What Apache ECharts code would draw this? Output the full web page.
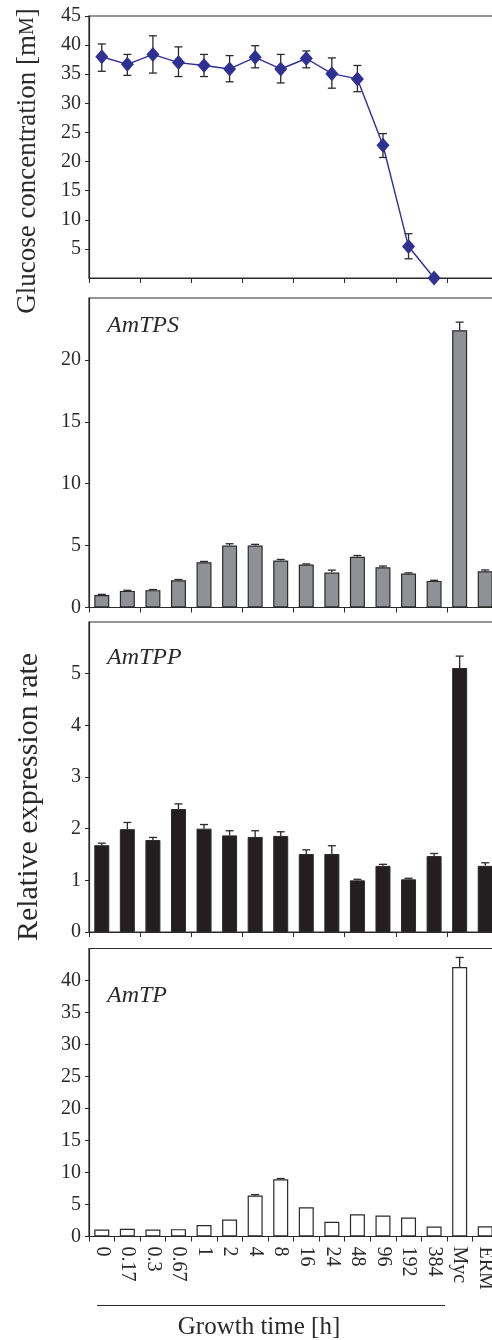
<!DOCTYPE html>
<html>
<head>
<meta charset="utf-8">
<script src="https://cdn.jsdelivr.net/npm/echarts@6/dist/echarts.min.js"></script>
<style>
  html, body { margin: 0; padding: 0; background: #fff; }
  #main { width: 492px; height: 1340px; }
</style>
</head>
<body>
<div id="main"></div>
<script>
// categories (growth time, h) + mycelium / ERM
var categories = ['0', '0.17', '0.3', '0.67', '1', '2', '4', '8', '16', '24', '48', '96', '192', '384', 'Myc', 'ERM'];

// glucose concentration [mM]
var glucose     = [38.0, 36.7, 38.4, 37.0, 36.5, 35.9, 37.9, 35.9, 37.7, 35.1, 34.2, 22.8, 5.4, 0];
var glucoseLow  = [35.5, 34.8, 35.2, 34.6, 34.6, 33.7, 36.1, 33.5, 36.1, 32.6, 32.0, 20.7, 3.3, null];
var glucoseHigh = [40.2, 38.4, 41.6, 39.7, 38.4, 38.2, 39.9, 38.4, 39.0, 37.8, 36.5, 24.8, 7.6, null];

// relative expression rates
var tps    = [1.0, 1.34, 1.4, 2.2, 3.66, 5.0, 5.0, 3.8, 3.47, 2.82, 4.1, 3.25, 2.74, 2.15, 22.4, 2.93];
var tpsErr = [0.06, 0.05, 0.05, 0.06, 0.06, 0.15, 0.1, 0.08, 0.05, 0.2, 0.1, 0.1, 0.06, 0.05, 0.65, 0.1];
var tpp    = [1.68, 1.99, 1.78, 2.38, 2.0, 1.87, 1.84, 1.86, 1.51, 1.51, 1.0, 1.28, 1.02, 1.47, 5.11, 1.28];
var tppErr = [0.04, 0.13, 0.05, 0.1, 0.08, 0.09, 0.12, 0.08, 0.08, 0.16, 0.02, 0.03, 0.02, 0.05, 0.23, 0.06];
var tp     = [1.09, 1.2, 1.1, 1.15, 1.8, 2.65, 6.4, 8.94, 4.58, 2.29, 3.48, 3.28, 2.96, 1.56, 42.1, 1.6];
var tpErr  = [0, 0, 0, 0, 0, 0, 0.15, 0.12, 0, 0, 0, 0, 0, 0, 1.5, 0];

var FONT = 'Liberation Serif';
var INK = '#2a2a2a';

var chart = echarts.init(document.getElementById('main'), null, { renderer: 'canvas' });

// error bar: [index, low, high], cap on both ends unless topOnly
function errRender(topOnly) {
  return function (params, api) {
    var lo = api.value(1), hi = api.value(2);
    if (lo == null || hi == null || isNaN(lo) || isNaN(hi) || hi - lo <= 0) return null;
    var p1 = api.coord([api.value(0), lo]);
    var p2 = api.coord([api.value(0), hi]);
    var w = 4;
    var st = { stroke: INK, lineWidth: 1.3 };
    var kids = [
      { type: 'line', shape: { x1: p1[0], y1: p1[1], x2: p2[0], y2: p2[1] }, style: st },
      { type: 'line', shape: { x1: p2[0] - w, y1: p2[1], x2: p2[0] + w, y2: p2[1] }, style: st }
    ];
    if (!topOnly) {
      kids.push({ type: 'line', shape: { x1: p1[0] - w, y1: p1[1], x2: p1[0] + w, y2: p1[1] }, style: st });
    }
    return { type: 'group', children: kids };
  };
}

function barErr(vals, errs) {
  return vals.map(function (v, i) { return [i, v, v + errs[i]]; });
}

// plots run past the right edge (ERM column is cut in the original)
var grids = [
  { left: 89, top: 16, width: 409, height: 262 },
  { left: 89, top: 298, width: 409, height: 309.5 },
  { left: 89, top: 622, width: 409, height: 310 },
  { left: 89, top: 948.5, width: 409, height: 288 }
];
grids.forEach(function (g) {
  g.show = true; g.borderColor = INK; g.borderWidth = 1.2; g.backgroundColor = 'transparent';
  g.outerBoundsMode = 'none'; g.containLabel = false;
});

function xAx(i, labels) {
  return {
    type: 'category', gridIndex: i, data: categories,
    axisLine: { lineStyle: { color: INK, width: 1.2 } },
    axisTick: { show: true, length: 5, lineStyle: { color: INK } },
    axisLabel: labels ? { show: true, rotate: -90, margin: 10, color: INK, fontFamily: FONT, fontSize: 20, interval: 0 } : { show: false },
    splitLine: { show: false }
  };
}
function yAx(i, max, interval, hideMin, hideMax) {
  return {
    type: 'value', gridIndex: i, min: 0, max: max, interval: interval,
    axisLine: { show: true, lineStyle: { color: INK, width: 1.2 } },
    axisTick: { show: true, length: 4, lineStyle: { color: INK } },
    axisLabel: { color: INK, fontFamily: FONT, fontSize: 20, margin: 8, showMinLabel: !hideMin, showMaxLabel: !hideMax },
    splitLine: { show: false }
  };
}

var option = {
  backgroundColor: '#fff',
  animation: false,
  grid: grids,
  xAxis: [xAx(0, false), xAx(1, false), xAx(2, false), xAx(3, true)],
  yAxis: [yAx(0, 45, 5, true, false), yAx(1, 25, 5, false, true), yAx(2, 6, 1, false, true), yAx(3, 45, 5, false, true)],
  series: [
    {
      type: 'custom', xAxisIndex: 0, yAxisIndex: 0, z: 1,
      renderItem: errRender(false),
      data: glucose.map(function (v, i) { return [i, glucoseLow[i], glucoseHigh[i]]; })
    },
    {
      type: 'line', xAxisIndex: 0, yAxisIndex: 0, z: 3, data: glucose,
      symbol: 'diamond', symbolSize: [13, 15], showAllSymbol: true,
      lineStyle: { color: '#2e3192', width: 1.4 },
      itemStyle: { color: '#2e3192' }
    },
    {
      type: 'bar', xAxisIndex: 1, yAxisIndex: 1, data: tps, barWidth: 15,
      itemStyle: { color: '#909195', borderColor: INK, borderWidth: 1.2 }
    },
    { type: 'custom', xAxisIndex: 1, yAxisIndex: 1, z: 4, renderItem: errRender(true), data: barErr(tps, tpsErr) },
    {
      type: 'bar', xAxisIndex: 2, yAxisIndex: 2, data: tpp, barWidth: 15,
      itemStyle: { color: '#231f20', borderColor: INK, borderWidth: 1 }
    },
    { type: 'custom', xAxisIndex: 2, yAxisIndex: 2, z: 4, renderItem: errRender(true), data: barErr(tpp, tppErr) },
    {
      type: 'bar', xAxisIndex: 3, yAxisIndex: 3, data: tp, barWidth: 15,
      itemStyle: { color: '#ffffff', borderColor: INK, borderWidth: 1.2 }
    },
    { type: 'custom', xAxisIndex: 3, yAxisIndex: 3, z: 4, renderItem: errRender(true), data: barErr(tp, tpErr) }
  ],
  graphic: [
    {
      type: 'text', x: 28, y: 161, rotation: Math.PI / 2,
      style: {
        text: 'Glucose concentration [m{s|M}]', fill: INK, font: '27px "Liberation Serif"',
        align: 'center', verticalAlign: 'middle',
        rich: { s: { fontSize: 20, fontFamily: FONT, fill: INK } }
      }
    },
    {
      type: 'text', x: 29, y: 797, rotation: Math.PI / 2,
      style: { text: 'Relative expression rate', fill: INK, font: '30px "Liberation Serif"', align: 'center', verticalAlign: 'middle' }
    },
    { type: 'text', x: 107, y: 326, style: { text: 'AmTPS', fill: INK, font: 'italic 24px "Liberation Serif"', verticalAlign: 'middle' } },
    { type: 'text', x: 107, y: 658, style: { text: 'AmTPP', fill: INK, font: 'italic 24px "Liberation Serif"', verticalAlign: 'middle' } },
    { type: 'text', x: 107, y: 996, style: { text: 'AmTP', fill: INK, font: 'italic 24px "Liberation Serif"', verticalAlign: 'middle' } },
    { type: 'line', shape: { x1: 97, y1: 1305.5, x2: 445, y2: 1305.5 }, style: { stroke: INK, lineWidth: 1.2 } },
    { type: 'text', x: 259, y: 1327, style: { text: 'Growth time [h]', fill: INK, font: '25px "Liberation Serif"', align: 'center', verticalAlign: 'middle' } }
  ]
};

chart.setOption(option);
</script>
</body>
</html>
